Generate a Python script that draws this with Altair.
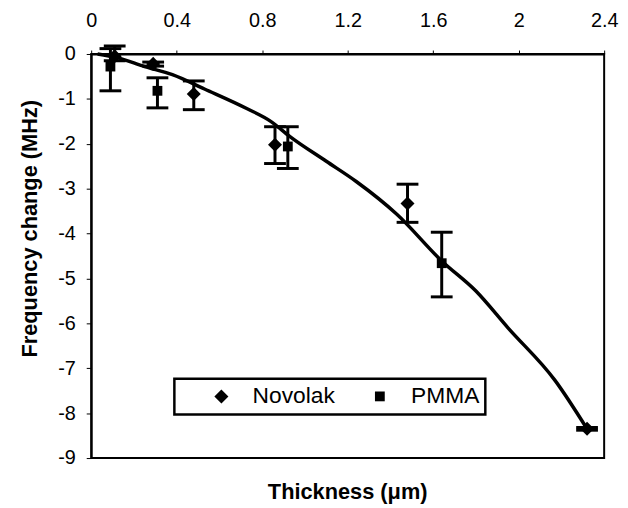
import altair as alt
import pandas as pd

# Novolak measurements
nov_x = [0.11, 0.29, 0.48, 0.86, 1.48, 2.32]
nov_y = [-0.05, -0.22, -0.89, -2.02, -3.33, -8.35]
nov_lo = [-0.15, -0.27, -1.24, -2.44, -3.75, -8.38]
nov_hi = [0.18, -0.18, -0.60, -1.62, -2.90, -8.32]

# PMMA measurements
pm_x = [0.09, 0.31, 0.92, 1.64]
pm_y = [-0.28, -0.82, -2.06, -4.66]
pm_lo = [-0.82, -1.20, -2.55, -5.41]
pm_hi = [0.12, -0.53, -1.62, -3.97]

# fitted curve
fit_x = [0.03, 0.12, 0.25, 0.38, 0.53, 0.73, 0.84, 0.93, 1.10, 1.24, 1.43, 1.64, 1.80, 1.95, 2.17, 2.32]
fit_y = [0.0, -0.08, -0.28, -0.46, -0.78, -1.22, -1.50, -1.84, -2.39, -2.84, -3.57, -4.61, -5.28, -6.10, -7.27, -8.35]

x_ticks = [0, 0.4, 0.8, 1.2, 1.6, 2, 2.4]
y_ticks = [0, -1, -2, -3, -4, -5, -6, -7, -8, -9]

pts = pd.concat([
    pd.DataFrame({"series": "Novolak", "x": nov_x, "y": nov_y, "lo": nov_lo, "hi": nov_hi}),
    pd.DataFrame({"series": "PMMA", "x": pm_x, "y": pm_y, "lo": pm_lo, "hi": pm_hi}),
], ignore_index=True)
fit = pd.DataFrame({"x": fit_x, "y": fit_y})

FONT = "Liberation Sans"

x_scale = alt.Scale(domain=[0, 2.4], nice=False, zero=False)
y_scale = alt.Scale(domain=[-9, 0], nice=False, zero=False)
x_axis = alt.Axis(orient="top", values=x_ticks, title=None, labelFontSize=20, labelFont=FONT,
                  labelColor="black", tickSize=4, labelPadding=20, domainColor="black",
                  domainWidth=2, tickColor="black", grid=False, labelFlush=False,
                  labelExpr="datum.value == 0 ? '0' : format(datum.value, '.1~f')")
y_axis = alt.Axis(values=y_ticks, title="Frequency change (MHz)", labelFontSize=20, labelFont=FONT,
                  labelColor="black", tickSize=5, labelPadding=11, domainColor="black",
                  domainWidth=2, tickColor="black", grid=False, titleFontSize=22,
                  titleFont=FONT, titleFontWeight="bold", titleColor="black",
                  titleX=-62, titleY=176, titleAngle=-90, titleBaseline="middle",
                  titleAlign="center", labelFlush=False,
                  labelExpr="datum.value == 0 ? '0' : '-' + abs(datum.value)")

X = alt.X("x:Q", scale=x_scale, axis=x_axis)
Y = alt.Y("y:Q", scale=y_scale, axis=y_axis)

line = alt.Chart(fit).mark_line(color="black", strokeWidth=3.5, interpolate="monotone").encode(x=X, y=Y)

bars = alt.Chart(pts).mark_rule(color="black", strokeWidth=3).encode(
    x=X, y=alt.Y("lo:Q", scale=y_scale, axis=y_axis), y2="hi:Q")

caps = alt.Chart(pts).transform_fold(["lo", "hi"], as_=["k", "v"]).mark_tick(
    color="black", orient="horizontal", size=22, thickness=3, opacity=1).encode(
    x=X, y=alt.Y("v:Q", scale=y_scale, axis=y_axis))

DIAMOND = "M0,-1L1,0L0,1L-1,0Z"
SQUARE = "M-0.7,-0.7H0.7V0.7H-0.7Z"

points = alt.Chart(pts).mark_point(filled=True, opacity=1, color="black", size=200).encode(
    x=X, y=Y,
    shape=alt.Shape("series:N", scale=alt.Scale(domain=["Novolak", "PMMA"], range=[DIAMOND, SQUARE]),
                    legend=alt.Legend(title=None, orient="none", direction="horizontal",
                                      legendX=84, legendY=328, labelFontSize=23, labelFont=FONT,
                                      labelColor="black", symbolFillColor="black",
                                      symbolStrokeColor="black", symbolSize=200,
                                      strokeColor="black", padding=6, symbolOffset=30,
                                      labelOffset=20, columnPadding=3, fillColor="white")),
)

chart = alt.layer(line, bars, caps, points).properties(
    width=518, height=408,
    autosize=alt.AutoSizeParams(type="none"),
    padding={"left": 84, "top": 44, "right": 16, "bottom": 48},
    title=alt.TitleParams("Thickness (μm)", orient="bottom", fontSize=22, font=FONT,
                          fontWeight="bold", color="black", offset=14),
    background="white",
).configure_view(stroke="black", strokeWidth=2).configure_legend(strokeWidth=2.5)

chart.save("out.html", embed_options={"renderer": "svg", "actions": False})
